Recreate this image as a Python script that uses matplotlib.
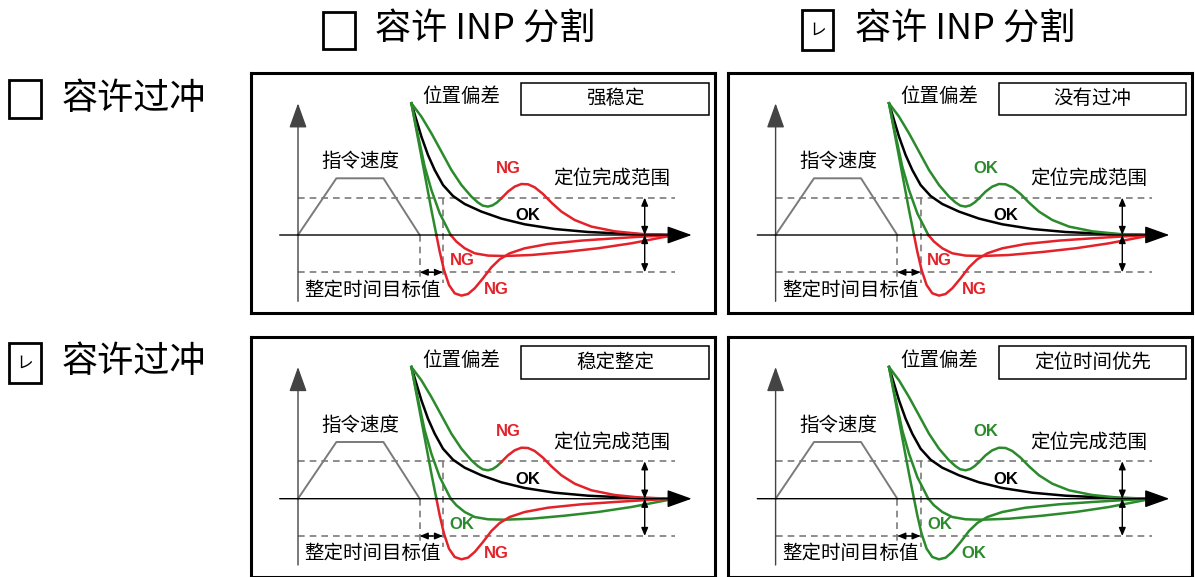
import matplotlib
matplotlib.use("Agg")
import matplotlib.pyplot as plt
from matplotlib.patches import Rectangle

plt.rcParams['font.family'] = ['Noto Sans CJK SC', 'DejaVu Sans']

W, H = 1195, 577
RED = "#e3222a"
GREEN = "#2b8a2b"
GRAY = "#7a7a7a"

# ============================================================
# Header texts
# ============================================================
col_labels = ["容许 INP 分割", "容许 INP 分割"]
col_checked = [False, True]
row_labels = ["容许过冲", "容许过冲"]
row_checked = [False, True]

panel_titles = [["强稳定", "没有过冲"],
                ["稳定整定", "定位时间优先"]]

# tail of (upper, middle-low, deep) curve is OK (green) or NG (red)
panel_ok = [[(False, False, False), (True, False, False)],
            [(False, True, False), (True, True, True)]]

# ============================================================
# Curves, in panel pixels (x right, y down)
# ============================================================
cmd_x = [47.3, 85.7, 132.7, 169.0]
cmd_y = [161.7, 105.0, 105.0, 161.7]

black_x = [160.7, 165.7, 170.7, 177.3, 184.0, 192.3, 202.3, 214.0, 230.7,
           250.7, 274.0, 304.0, 337.3, 380.7, 424.0]
black_y = [30.0, 46.7, 63.3, 81.7, 96.7, 111.7, 122.7, 130.7, 138.3,
           145.3, 151.0, 155.7, 158.7, 160.7, 161.7]

upper_head_x = [160.7, 170.7, 180.7, 190.7, 200.7, 210.7, 220.7, 227.0,
                232.0, 237.3, 242.0, 246.5, 250.7]
upper_head_y = [30.0, 43.3, 60.0, 78.3, 96.7, 111.7, 123.3, 129.0,
                132.3, 133.3, 132.0, 129.0, 125.0]
upper_tail_x = [250.7, 257.3, 264.0, 270.7, 277.3, 284.0, 292.3, 300.7,
                310.7, 324.0, 340.7, 364.0, 390.7, 424.0]
upper_tail_y = [125.0, 118.3, 113.3, 110.7, 111.0, 114.0, 120.7, 129.3,
                138.3, 146.7, 153.3, 158.0, 160.7, 161.7]

mid_head_x = [160.7, 164.7, 169.0, 174.0, 180.7, 189.0, 200.0]
mid_head_y = [30.0, 50.0, 70.0, 93.3, 116.7, 140.0, 161.7]
mid_tail_x = [200.0, 205.7, 214.0, 224.0, 237.3, 254.0, 280.7, 314.0,
              347.3, 380.7, 424.0]
mid_tail_y = [161.7, 168.3, 175.0, 180.0, 182.3, 182.7, 181.7, 178.7,
              175.0, 170.0, 161.7]

deep_head_x = [160.7, 165.7, 170.7, 175.7, 180.7, 185.7]
deep_head_y = [30.0, 56.7, 83.3, 110.0, 136.7, 161.7]
deep_tail_x = [185.7, 189.0, 193.3, 198.3, 204.0, 210.7, 217.3, 224.0,
               232.3, 240.7, 249.0, 259.0, 274.0, 297.3, 330.7, 364.0,
               397.3, 424.0]
deep_tail_y = [161.7, 178.3, 196.7, 211.7, 220.0, 222.3, 220.7, 215.0,
               205.0, 194.0, 186.0, 180.0, 175.0, 170.7, 167.3, 165.0,
               163.0, 161.7]

# ============================================================
# Layout (panel pixels)
# ============================================================
AX_X, AX_Y = 47.3, 161.7
RANGE_TOP, RANGE_BOT = 124.3, 199.0
DASH_END = 424.0
T1_X, T2_X = 169.0, 192.3
RANGE_ARROW_X = 394.0

label_pos = {"upper": (257.3, 95.0), "black": (277.3, 142.3),
             "mid": (211.3, 187.3), "deep": (245.7, 216.7)}

panel_left = [250.7, 728.3]
panel_top = [73.3, 337.0]
PW, PH = 464, 239.5


def arrow(ax, start, end, style, scale, lw=1.0, color="black"):
    ax.annotate("", xy=end, xytext=start,
                arrowprops=dict(arrowstyle=style, color=color, lw=lw,
                                mutation_scale=scale, shrinkA=0, shrinkB=0))


def draw_panel(ax, title, ok):
    ax.set_xlim(0, PW)
    ax.set_ylim(PH, 0)
    ax.set_xticks([])
    ax.set_yticks([])
    for s in ax.spines.values():
        s.set_linewidth(2.2)

    # positioning range and settling time guides
    ax.hlines([RANGE_TOP, RANGE_BOT], AX_X, DASH_END, colors=GRAY,
              linestyles=(0, (4, 3)), lw=1.2)
    ax.vlines(T1_X, AX_Y, 205, colors=GRAY, linestyles=(0, (4, 3)), lw=1.2)
    ax.vlines(T2_X, RANGE_TOP, 210, colors=GRAY, linestyles=(0, (4, 3)), lw=1.2)

    # axes
    arrow(ax, (AX_X, 228), (AX_X, 30), "-|>,head_length=1.4,head_width=0.5", 11,
          lw=1.0, color="#444444")
    arrow(ax, (29, AX_Y), (441, AX_Y), "-|>,head_length=1.4,head_width=0.5", 11,
          lw=1.0)

    # command speed
    ax.plot(cmd_x, cmd_y, color=GRAY, lw=1.4)

    # small double arrows
    arrow(ax, (T1_X, RANGE_BOT), (T2_X, RANGE_BOT), "<|-|>,head_length=0.6,head_width=0.25", 8)
    arrow(ax, (RANGE_ARROW_X, RANGE_TOP), (RANGE_ARROW_X, AX_Y),
          "<|-|>,head_length=0.6,head_width=0.25", 8)
    arrow(ax, (RANGE_ARROW_X, AX_Y), (RANGE_ARROW_X, RANGE_BOT),
          "<|-|>,head_length=0.6,head_width=0.25", 8)

    # position deviation curves
    ax.plot(black_x, black_y, color="black", lw=1.8, solid_joinstyle="round")
    tails = [(upper_tail_x, upper_tail_y, ok[0]),
             (mid_tail_x, mid_tail_y, ok[1]),
             (deep_tail_x, deep_tail_y, ok[2])]
    for hx, hy in [(upper_head_x, upper_head_y), (mid_head_x, mid_head_y),
                   (deep_head_x, deep_head_y)]:
        ax.plot(hx, hy, color=GREEN, lw=1.8, solid_joinstyle="round")
    for tx, ty, good in sorted(tails, key=lambda t: not t[2]):
        ax.plot(tx, ty, color=GREEN if good else RED, lw=1.8,
                solid_joinstyle="round")

    # judgement labels
    bold = dict(family="Liberation Sans", weight="bold", fontsize=12,
                ha="center", va="center")
    for key, good in zip(["upper", "mid", "deep"], ok):
        ax.text(*label_pos[key], "OK" if good else "NG",
                color=GREEN if good else RED, **bold)
    ax.text(*label_pos["black"], "OK", color="black", **bold)

    # texts
    ax.text(210.7, 23.3, "位置偏差", fontsize=14, ha="center", va="center")
    ax.text(109.7, 88.3, "指令速度", fontsize=14, ha="center", va="center")
    ax.text(360.7, 105.0, "定位完成范围", fontsize=14, ha="center", va="center")
    ax.text(122.3, 216.7, "整定时间目标值", fontsize=14, ha="center", va="center")

    ax.add_patch(Rectangle((270.7, 9.3), 187.3, 32.4, fill=False,
                           edgecolor="black", lw=1.1))
    ax.text(364.3, 25.5, title, fontsize=14, ha="center", va="center")


fig = plt.figure(figsize=(W / 100, H / 100), dpi=100)
fig.patch.set_facecolor("white")

bg = fig.add_axes([0, 0, 1, 1])
bg.set_xlim(0, W)
bg.set_ylim(H, 0)
bg.axis("off")


def checkbox(x0, y0, x1, y1, checked):
    bg.add_patch(Rectangle((x0, y0), x1 - x0, y1 - y0, fill=False,
                           edgecolor="black", lw=2.0))
    if checked:
        bg.text((x0 + x1) / 2, (y0 + y1) / 2, "レ", fontsize=12,
                ha="center", va="center")


# column headers
col_boxes = [(323.3, 11.7, 355.0, 49.3), (801.7, 10.0, 833.3, 50.0)]
col_text_x = [375.0, 855.0]
for box, tx, lab, chk in zip(col_boxes, col_text_x, col_labels, col_checked):
    checkbox(*box, chk)
    bg.text(tx, 29.5, lab, fontsize=26, ha="left", va="center")

# row headers
row_boxes = [(9.3, 80.0, 40.7, 118.3), (9.3, 343.3, 40.7, 383.3)]
row_text_y = [98.5, 362.0]
for box, ty, lab, chk in zip(row_boxes, row_text_y, row_labels, row_checked):
    checkbox(*box, chk)
    bg.text(61.7, ty, lab, fontsize=26, ha="left", va="center")

for r in range(2):
    for c in range(2):
        ax = fig.add_axes([panel_left[c] / W, 1 - (panel_top[r] + PH) / H,
                           PW / W, PH / H])
        draw_panel(ax, panel_titles[r][c], panel_ok[r][c])

plt.savefig("out.png", dpi=100)
